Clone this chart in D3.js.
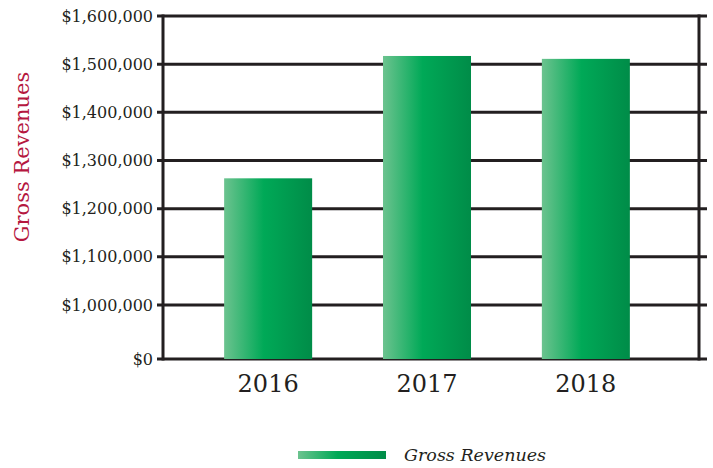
<!DOCTYPE html>
<html>
<head>
<meta charset="utf-8">
<script src="https://cdn.jsdelivr.net/npm/d3@7"></script>
<style>
  html, body { margin: 0; padding: 0; background: #fff; }
  svg { display: block; }
</style>
</head>
<body>
<svg id="chart" width="713" height="468"></svg>
<script>
// Gross revenues by year; the value axis is broken between $0 and $1,000,000.
const years = ['2016', '2017', '2018'];
const revenues = [1263000, 1517000, 1511000];
const yTicks = [0, 1000000, 1100000, 1200000, 1300000, 1400000, 1500000, 1600000];
const seriesName = 'Gross Revenues';

const ink = '#231f20';
const svg = d3.select('#chart');

const defs = svg.append('defs');
const grad = defs.append('linearGradient').attr('id', 'barGrad')
  .attr('x1', '0%').attr('x2', '100%').attr('y1', '0%').attr('y2', '0%');
grad.append('stop').attr('offset', '0%').attr('stop-color', '#6cc38f');
grad.append('stop').attr('offset', '45%').attr('stop-color', '#00a957');
grad.append('stop').attr('offset', '100%').attr('stop-color', '#008c48');

const x = d3.scaleBand().domain(years).range([159, 695])
  .paddingInner(0.446).paddingOuter(0.41);
// broken scale: zero sits just below the $1,000,000 line
const y = d3.scaleLinear().domain([0, 1000000, 1600000]).range([359, 305, 16]);

const left = 163, right = 699;

// gridlines
svg.append('g').selectAll('line').data(yTicks).join('line')
  .attr('x1', left - 6).attr('x2', 707)
  .attr('y1', d => y(d)).attr('y2', d => y(d))
  .attr('stroke', ink).attr('stroke-width', 3);

// bars
svg.append('g').selectAll('rect').data(revenues).join('rect')
  .attr('x', (d, i) => x(years[i]))
  .attr('width', x.bandwidth())
  .attr('y', d => y(d))
  .attr('height', d => y(0) - y(d))
  .attr('fill', 'url(#barGrad)');

// frame verticals
svg.append('line').attr('x1', left).attr('x2', left)
  .attr('y1', y(1600000) - 1.5).attr('y2', y(0) + 1.5)
  .attr('stroke', ink).attr('stroke-width', 3);
svg.append('line').attr('x1', right).attr('x2', right)
  .attr('y1', y(1600000) - 1.5).attr('y2', y(0) + 1.5)
  .attr('stroke', ink).attr('stroke-width', 3);

// y tick labels
const fmt = d3.format('$,');
svg.append('g').selectAll('text').data(yTicks).join('text')
  .attr('x', 153).attr('y', d => y(d))
  .attr('dy', '0.35em')
  .attr('text-anchor', 'end')
  .attr('font-family', 'DejaVu Serif, serif')
  .attr('font-size', '16px')
  .attr('fill', ink)
  .text(d => fmt(d));

// x labels
svg.append('g').selectAll('text').data(years).join('text')
  .attr('x', d => x(d) + x.bandwidth() / 2).attr('y', 392)
  .attr('text-anchor', 'middle')
  .attr('font-family', 'DejaVu Serif, serif')
  .attr('font-size', '24px')
  .attr('fill', ink)
  .text(d => d);

// y axis title
svg.append('text')
  .attr('transform', 'translate(29,157) rotate(-90)')
  .attr('text-anchor', 'middle')
  .attr('font-family', 'DejaVu Serif, serif')
  .attr('font-size', '21px')
  .attr('fill', '#b5173f')
  .text(seriesName);

// legend
const legend = svg.append('g');
legend.append('rect').attr('x', 298).attr('y', 451).attr('width', 88).attr('height', 8)
  .attr('fill', 'url(#barGrad)');
legend.append('text').attr('x', 404).attr('y', 461)
  .attr('font-family', 'DejaVu Serif, serif')
  .attr('font-style', 'italic')
  .attr('font-size', '17.5px')
  .attr('fill', ink)
  .text(seriesName);
</script>
</body>
</html>
